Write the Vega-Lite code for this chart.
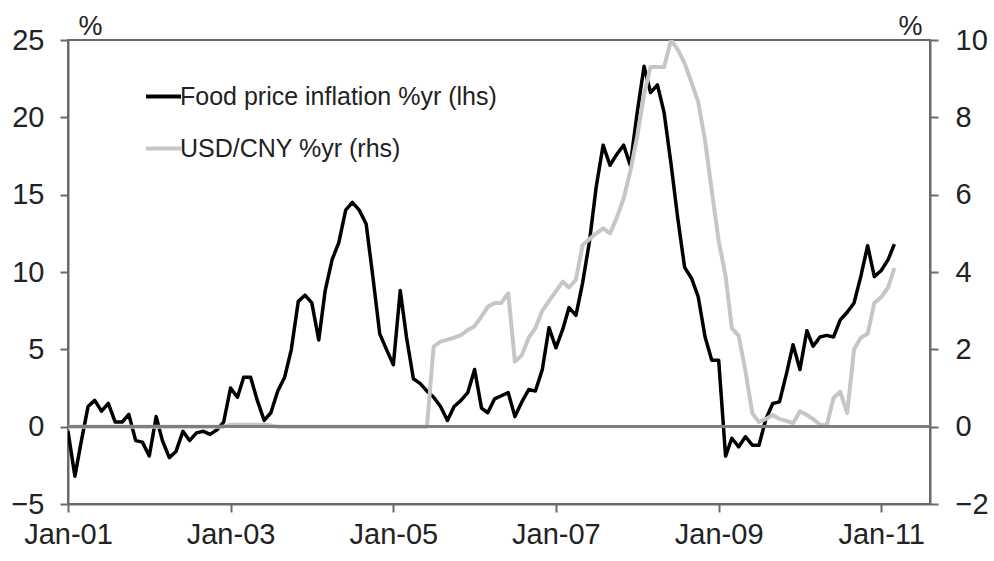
{
  "$schema": "https://vega.github.io/schema/vega-lite/v6.json",
  "width": 862,
  "height": 464,
  "autosize": {"type": "none"},
  "padding": {"left": 68, "top": 40, "right": 64, "bottom": 57},
  "background": "white",
  "config": {
    "font": "Liberation Sans",
    "view": {"stroke": "#6a6a6a", "strokeWidth": 2}
  },
  "data": {
    "values": [
      {"date": "2001-01-01", "food": -0.3, "fx": 0.0},
      {"date": "2001-02-01", "food": -3.2, "fx": 0.0},
      {"date": "2001-03-01", "food": -1.0, "fx": 0.0},
      {"date": "2001-04-01", "food": 1.3, "fx": 0.0},
      {"date": "2001-05-01", "food": 1.7, "fx": 0.0},
      {"date": "2001-06-01", "food": 1.0, "fx": 0.0},
      {"date": "2001-07-01", "food": 1.5, "fx": 0.0},
      {"date": "2001-08-01", "food": 0.3, "fx": 0.0},
      {"date": "2001-09-01", "food": 0.3, "fx": 0.0},
      {"date": "2001-10-01", "food": 0.8, "fx": 0.0},
      {"date": "2001-11-01", "food": -0.9, "fx": 0.0},
      {"date": "2001-12-01", "food": -1.0, "fx": 0.0},
      {"date": "2002-01-01", "food": -1.9, "fx": 0.0},
      {"date": "2002-02-01", "food": 0.65, "fx": 0.0},
      {"date": "2002-03-01", "food": -0.9, "fx": 0.0},
      {"date": "2002-04-01", "food": -2.0, "fx": 0.0},
      {"date": "2002-05-01", "food": -1.6, "fx": 0.0},
      {"date": "2002-06-01", "food": -0.3, "fx": 0.0},
      {"date": "2002-07-01", "food": -0.9, "fx": 0.0},
      {"date": "2002-08-01", "food": -0.4, "fx": 0.0},
      {"date": "2002-09-01", "food": -0.3, "fx": 0.0},
      {"date": "2002-10-01", "food": -0.5, "fx": 0.0},
      {"date": "2002-11-01", "food": -0.2, "fx": 0.0},
      {"date": "2002-12-01", "food": 0.3, "fx": 0.0},
      {"date": "2003-01-01", "food": 2.5, "fx": 0.05},
      {"date": "2003-02-01", "food": 1.9, "fx": 0.05},
      {"date": "2003-03-01", "food": 3.2, "fx": 0.05},
      {"date": "2003-04-01", "food": 3.2, "fx": 0.05},
      {"date": "2003-05-01", "food": 1.7, "fx": 0.05},
      {"date": "2003-06-01", "food": 0.4, "fx": 0.05},
      {"date": "2003-07-01", "food": 0.9, "fx": 0.03},
      {"date": "2003-08-01", "food": 2.3, "fx": 0.0},
      {"date": "2003-09-01", "food": 3.2, "fx": 0.0},
      {"date": "2003-10-01", "food": 5.0, "fx": 0.0},
      {"date": "2003-11-01", "food": 8.1, "fx": 0.0},
      {"date": "2003-12-01", "food": 8.5, "fx": 0.0},
      {"date": "2004-01-01", "food": 8.0, "fx": 0.0},
      {"date": "2004-02-01", "food": 5.6, "fx": 0.0},
      {"date": "2004-03-01", "food": 8.8, "fx": 0.0},
      {"date": "2004-04-01", "food": 10.8, "fx": 0.0},
      {"date": "2004-05-01", "food": 11.9, "fx": 0.0},
      {"date": "2004-06-01", "food": 14.0, "fx": 0.0},
      {"date": "2004-07-01", "food": 14.5, "fx": 0.0},
      {"date": "2004-08-01", "food": 14.0, "fx": 0.0},
      {"date": "2004-09-01", "food": 13.1, "fx": 0.0},
      {"date": "2004-10-01", "food": 9.7, "fx": 0.0},
      {"date": "2004-11-01", "food": 6.0, "fx": 0.0},
      {"date": "2004-12-01", "food": 5.0, "fx": 0.0},
      {"date": "2005-01-01", "food": 4.0, "fx": 0.0},
      {"date": "2005-02-01", "food": 8.8, "fx": 0.0},
      {"date": "2005-03-01", "food": 5.8, "fx": 0.0},
      {"date": "2005-04-01", "food": 3.1, "fx": 0.0},
      {"date": "2005-05-01", "food": 2.8, "fx": 0.0},
      {"date": "2005-06-01", "food": 2.3, "fx": 0.0},
      {"date": "2005-07-01", "food": 1.9, "fx": 2.07},
      {"date": "2005-08-01", "food": 1.3, "fx": 2.2},
      {"date": "2005-09-01", "food": 0.4, "fx": 2.25},
      {"date": "2005-10-01", "food": 1.3, "fx": 2.3},
      {"date": "2005-11-01", "food": 1.7, "fx": 2.37},
      {"date": "2005-12-01", "food": 2.2, "fx": 2.5},
      {"date": "2006-01-01", "food": 3.7, "fx": 2.6},
      {"date": "2006-02-01", "food": 1.2, "fx": 2.85},
      {"date": "2006-03-01", "food": 0.9, "fx": 3.1},
      {"date": "2006-04-01", "food": 1.8, "fx": 3.2},
      {"date": "2006-05-01", "food": 2.0, "fx": 3.2},
      {"date": "2006-06-01", "food": 2.2, "fx": 3.45},
      {"date": "2006-07-01", "food": 0.65, "fx": 1.68},
      {"date": "2006-08-01", "food": 1.6, "fx": 1.85},
      {"date": "2006-09-01", "food": 2.4, "fx": 2.3},
      {"date": "2006-10-01", "food": 2.3, "fx": 2.55},
      {"date": "2006-11-01", "food": 3.7, "fx": 3.0},
      {"date": "2006-12-01", "food": 6.4, "fx": 3.25},
      {"date": "2007-01-01", "food": 5.1, "fx": 3.5},
      {"date": "2007-02-01", "food": 6.3, "fx": 3.75},
      {"date": "2007-03-01", "food": 7.7, "fx": 3.6},
      {"date": "2007-04-01", "food": 7.2, "fx": 3.8},
      {"date": "2007-05-01", "food": 9.3, "fx": 4.7},
      {"date": "2007-06-01", "food": 12.0, "fx": 4.85},
      {"date": "2007-07-01", "food": 15.5, "fx": 5.0},
      {"date": "2007-08-01", "food": 18.2, "fx": 5.13},
      {"date": "2007-09-01", "food": 16.9, "fx": 5.0},
      {"date": "2007-10-01", "food": 17.6, "fx": 5.4},
      {"date": "2007-11-01", "food": 18.2, "fx": 5.9},
      {"date": "2007-12-01", "food": 16.9, "fx": 6.6},
      {"date": "2008-01-01", "food": 20.3, "fx": 7.5},
      {"date": "2008-02-01", "food": 23.3, "fx": 8.6},
      {"date": "2008-03-01", "food": 21.6, "fx": 9.3},
      {"date": "2008-04-01", "food": 22.1, "fx": 9.3},
      {"date": "2008-05-01", "food": 20.3, "fx": 9.3},
      {"date": "2008-06-01", "food": 17.0, "fx": 10.0},
      {"date": "2008-07-01", "food": 13.5, "fx": 9.75},
      {"date": "2008-08-01", "food": 10.3, "fx": 9.4},
      {"date": "2008-09-01", "food": 9.6, "fx": 8.9},
      {"date": "2008-10-01", "food": 8.4, "fx": 8.4},
      {"date": "2008-11-01", "food": 5.8, "fx": 7.4},
      {"date": "2008-12-01", "food": 4.3, "fx": 6.1},
      {"date": "2009-01-01", "food": 4.3, "fx": 4.8},
      {"date": "2009-02-01", "food": -1.9, "fx": 3.9},
      {"date": "2009-03-01", "food": -0.75, "fx": 2.55},
      {"date": "2009-04-01", "food": -1.3, "fx": 2.35},
      {"date": "2009-05-01", "food": -0.65, "fx": 1.45},
      {"date": "2009-06-01", "food": -1.2, "fx": 0.35},
      {"date": "2009-07-01", "food": -1.2, "fx": 0.12},
      {"date": "2009-08-01", "food": 0.5, "fx": 0.2},
      {"date": "2009-09-01", "food": 1.5, "fx": 0.3},
      {"date": "2009-10-01", "food": 1.6, "fx": 0.2},
      {"date": "2009-11-01", "food": 3.4, "fx": 0.15},
      {"date": "2009-12-01", "food": 5.3, "fx": 0.09},
      {"date": "2010-01-01", "food": 3.7, "fx": 0.4},
      {"date": "2010-02-01", "food": 6.2, "fx": 0.3},
      {"date": "2010-03-01", "food": 5.2, "fx": 0.2},
      {"date": "2010-04-01", "food": 5.8, "fx": 0.05},
      {"date": "2010-05-01", "food": 5.9, "fx": 0.03},
      {"date": "2010-06-01", "food": 5.8, "fx": 0.75},
      {"date": "2010-07-01", "food": 6.9, "fx": 0.9},
      {"date": "2010-08-01", "food": 7.4, "fx": 0.35},
      {"date": "2010-09-01", "food": 8.0, "fx": 2.0},
      {"date": "2010-10-01", "food": 9.7, "fx": 2.3},
      {"date": "2010-11-01", "food": 11.7, "fx": 2.4},
      {"date": "2010-12-01", "food": 9.7, "fx": 3.2},
      {"date": "2011-01-01", "food": 10.1, "fx": 3.35},
      {"date": "2011-02-01", "food": 10.8, "fx": 3.6},
      {"date": "2011-03-01", "food": 11.8, "fx": 4.1}
    ]
  },
  "layer": [
    {
      "mark": {"type": "line", "strokeWidth": 3.5, "strokeJoin": "round", "clip": true},
      "encoding": {
        "x": {
          "field": "date",
          "type": "temporal",
          "scale": {
            "type": "utc",
            "domain": [
              {"year": 2001, "month": 1, "date": 1, "utc": true},
              {"year": 2011, "month": 8, "date": 8, "utc": true}
            ]
          },
          "axis": {
            "title": null,
            "values": [
              {"year": 2001, "month": 1, "date": 1, "utc": true},
              {"year": 2003, "month": 1, "date": 1, "utc": true},
              {"year": 2005, "month": 1, "date": 1, "utc": true},
              {"year": 2007, "month": 1, "date": 1, "utc": true},
              {"year": 2009, "month": 1, "date": 1, "utc": true},
              {"year": 2011, "month": 1, "date": 1, "utc": true}
            ],
            "format": "%b-%y",
            "grid": false,
            "domainColor": "#6a6a6a",
            "domainWidth": 2,
            "tickColor": "#6a6a6a",
            "tickWidth": 2,
            "tickSize": 8,
            "labelFontSize": 29,
            "labelColor": "#222222",
            "labelPadding": 8,
            "labelFlush": false,
            "labelOverlap": false
          }
        },
        "y": {
          "field": "food",
          "type": "quantitative",
          "scale": {"domain": [-5, 25], "nice": false, "zero": false},
          "axis": {
            "orient": "left",
            "values": [-5, 0, 5, 10, 15, 20, 25],
            "grid": false,
            "domainColor": "#6a6a6a",
            "domainWidth": 2,
            "tickColor": "#6a6a6a",
            "tickWidth": 2,
            "tickSize": 8,
            "labelFontSize": 29,
            "labelColor": "#222222",
            "labelPadding": 16,
            "title": "%",
            "titleAngle": 0,
            "titleX": 10,
            "titleY": -6,
            "titleAlign": "left",
            "titleBaseline": "alphabetic",
            "titleFontSize": 27,
            "titleFontWeight": "normal",
            "titleColor": "#222222"
          }
        },
        "color": {
          "datum": "Food price inflation %yr (lhs)",
          "type": "nominal",
          "scale": {
            "domain": ["Food price inflation %yr (lhs)", "USD/CNY %yr (rhs)"],
            "range": ["#000000", "#c6c6c6"]
          },
          "legend": {
            "orient": "none",
            "legendX": 76,
            "legendY": 37,
            "title": null,
            "padding": 0,
            "symbolType": "stroke",
            "symbolSize": 1225,
            "symbolStrokeWidth": 4,
            "labelFontSize": 25,
            "labelColor": "#222222",
            "labelOffset": -3,
            "labelLimit": 600,
            "rowPadding": 19
          }
        }
      }
    },
    {
      "layer": [
        {
          "mark": {"type": "line", "strokeWidth": 4, "strokeJoin": "round", "clip": true},
          "encoding": {
            "x": {
              "field": "date",
              "type": "temporal",
              "scale": {
                "type": "utc",
                "domain": [
                  {"year": 2001, "month": 1, "date": 1, "utc": true},
                  {"year": 2011, "month": 8, "date": 8, "utc": true}
                ]
              },
              "axis": {
                "title": null,
                "values": [
                  {"year": 2001, "month": 1, "date": 1, "utc": true},
                  {"year": 2003, "month": 1, "date": 1, "utc": true},
                  {"year": 2005, "month": 1, "date": 1, "utc": true},
                  {"year": 2007, "month": 1, "date": 1, "utc": true},
                  {"year": 2009, "month": 1, "date": 1, "utc": true},
                  {"year": 2011, "month": 1, "date": 1, "utc": true}
                ],
                "format": "%b-%y",
                "grid": false,
                "domainColor": "#6a6a6a",
                "domainWidth": 2,
                "tickColor": "#6a6a6a",
                "tickWidth": 2,
                "tickSize": 8,
                "labelFontSize": 29,
                "labelColor": "#222222",
                "labelPadding": 8,
                "labelFlush": false,
                "labelOverlap": false
              }
            },
            "y": {
              "field": "fx",
              "type": "quantitative",
              "scale": {"domain": [-2, 10], "nice": false, "zero": false},
              "axis": {
                "orient": "right",
                "values": [-2, 0, 2, 4, 6, 8, 10],
                "grid": false,
                "domainColor": "#6a6a6a",
                "domainWidth": 2,
                "tickColor": "#6a6a6a",
                "tickWidth": 2,
                "tickSize": 8,
                "labelFontSize": 29,
                "labelColor": "#222222",
                "labelPadding": 17,
                "title": "%",
                "titleAngle": 0,
                "titleX": -8,
                "titleY": -6,
                "titleAlign": "right",
                "titleBaseline": "alphabetic",
                "titleFontSize": 27,
                "titleFontWeight": "normal",
                "titleColor": "#222222"
              }
            },
            "color": {
              "datum": "USD/CNY %yr (rhs)",
              "type": "nominal"
            }
          }
        },
        {
          "mark": {"type": "rule", "color": "#7f7f7f", "strokeWidth": 2.5},
          "encoding": {
            "y": {
              "datum": 0,
              "type": "quantitative",
              "axis": {
                "orient": "right",
                "values": [-2, 0, 2, 4, 6, 8, 10],
                "grid": false,
                "domainColor": "#6a6a6a",
                "domainWidth": 2,
                "tickColor": "#6a6a6a",
                "tickWidth": 2,
                "tickSize": 8,
                "labelFontSize": 29,
                "labelColor": "#222222",
                "labelPadding": 17,
                "title": "%",
                "titleAngle": 0,
                "titleX": -8,
                "titleY": -6,
                "titleAlign": "right",
                "titleBaseline": "alphabetic",
                "titleFontSize": 27,
                "titleFontWeight": "normal",
                "titleColor": "#222222"
              }
            }
          }
        }
      ]
    }
  ],
  "resolve": {"scale": {"y": "independent"}}
}
